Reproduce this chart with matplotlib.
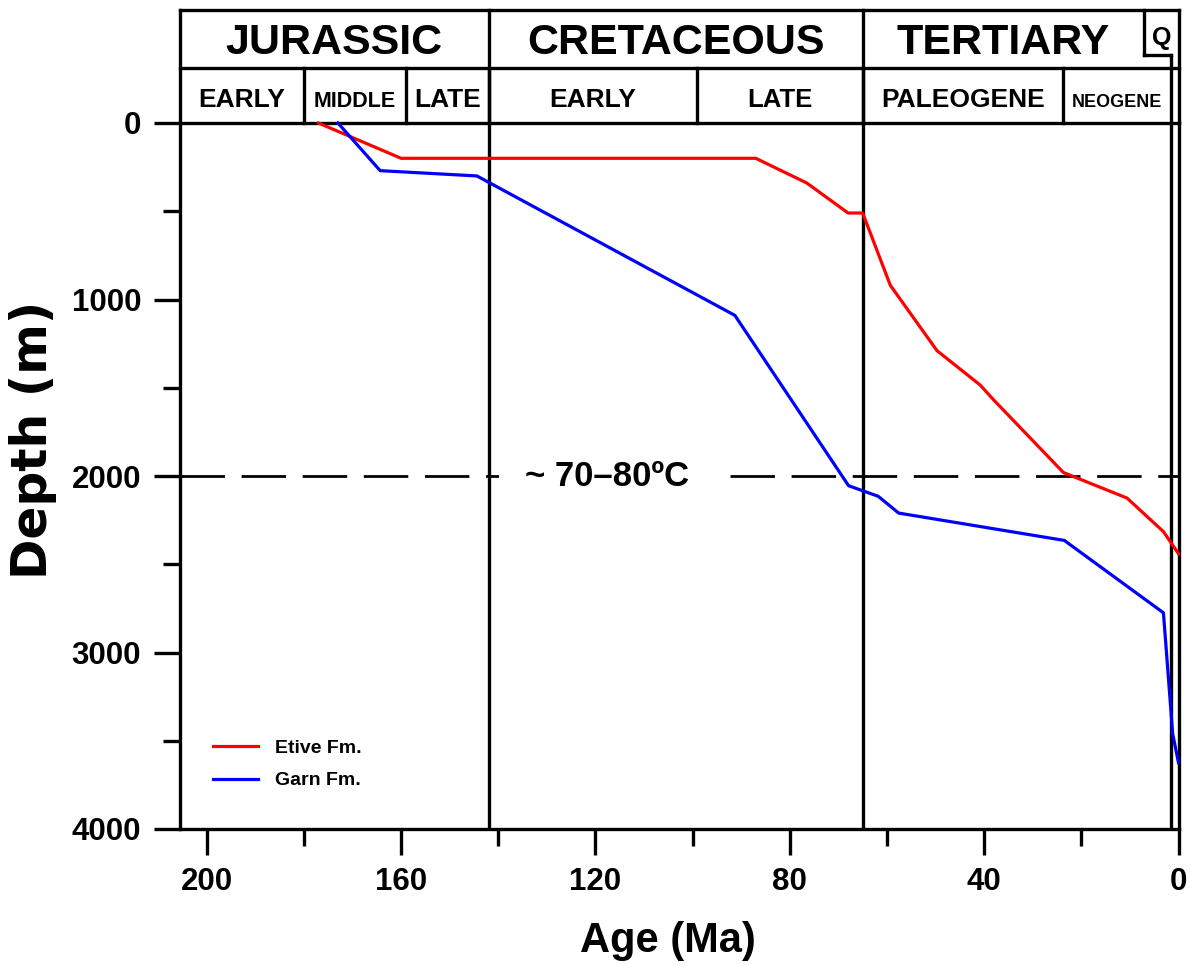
import matplotlib
matplotlib.use("Agg")
import matplotlib.pyplot as plt
from matplotlib.ticker import MultipleLocator

plt.rcParams['font.family'] = ['Liberation Sans', 'DejaVu Sans']
plt.rcParams['font.weight'] = 'bold'

# Burial histories (age in Ma, depth in m)
etive_age = [177, 160, 87, 76.5, 68, 65, 59.3, 49.7, 40.8, 38, 23.7, 10.6, 3.1, 0]
etive_depth = [0, 200, 200, 340, 510, 510, 920, 1290, 1485, 1570, 1980, 2125, 2315, 2440]
garn_age = [173, 164.3, 144.4, 91.3, 67.9, 61.8, 57.6, 23.5, 3.1, 1.2, 0]
garn_depth = [0, 270, 300, 1090, 2055, 2115, 2210, 2365, 2775, 3460, 3625]

# Geological time scale
period_names = ["JURASSIC", "CRETACEOUS", "TERTIARY", "Q"]
period_bounds = [205.5, 142, 65, 1.5, 0]
epoch_names = ["EARLY", "MIDDLE", "LATE", "EARLY", "LATE", "PALEOGENE", "NEOGENE"]
epoch_bounds = [205.5, 180, 159, 142, 99, 65, 23.8, 1.5]
epoch_sizes = [19, 15.5, 19, 19, 18.5, 19, 13]
q_label_left = 7.0  # the Q label box is widened in the upper row

isotherm_depth = 2000
isotherm_label = "~ 70\u201380\u00baC"

x_min, x_max = 205.5, 0
y_min, y_max = 0, 4000

W, H = 1190, 965
fig = plt.figure(figsize=(W / 100, H / 100), dpi=100)

L, R = 180 / W, 1178.5 / W
B, T = 1 - 829 / H, 1 - 123 / H
HT = 1 - 10 / H
ax = fig.add_axes([L, B, R - L, T - B])
hax = fig.add_axes([L, T, R - L, HT - T])

LW = 2.4

# ---- main panel ----
ax.plot(etive_age, etive_depth, color='#ff0000', lw=2.3, label='Etive Fm.', clip_on=False, zorder=4)
ax.plot(garn_age, garn_depth, color='#0000ff', lw=2.3, label='Garn Fm.', clip_on=False, zorder=4)

for b in period_bounds[1:-1]:
    ax.axvline(b, color='black', lw=LW, zorder=3)

ax.axhline(isotherm_depth, color='black', lw=2.0, dashes=(16, 6), zorder=2)
ax.text(117.6, isotherm_depth, isotherm_label, ha='center', va='center',
        fontsize=25, fontweight='bold', zorder=3,
        bbox=dict(facecolor='white', edgecolor='none', pad=19))

ax.set_xlim(x_min, x_max)
ax.set_ylim(y_max, y_min)
for s in ax.spines.values():
    s.set_linewidth(LW)

ax.xaxis.set_major_locator(MultipleLocator(40))
ax.xaxis.set_minor_locator(MultipleLocator(20))
ax.yaxis.set_major_locator(MultipleLocator(1000))
ax.yaxis.set_minor_locator(MultipleLocator(500))
ax.tick_params(which='major', length=19, width=LW, labelsize=22.5, direction='out')
ax.tick_params(which='minor', length=12.5, width=LW, direction='out')
ax.tick_params(axis='x', which='major', pad=8)
ax.tick_params(axis='y', which='major', pad=9)
for lab in ax.get_xticklabels() + ax.get_yticklabels():
    lab.set_fontweight('bold')

ax.set_xlabel('Age (Ma)', fontsize=30, fontweight='bold')
ax.set_ylabel('Depth (m)', fontsize=35, fontweight='bold', family='DejaVu Sans')
ax.xaxis.set_label_coords(0.489, -0.158)
ax.xaxis.label.set_va('center')
ax.yaxis.set_label_coords(-0.147, 0.551)
ax.yaxis.label.set_va('center')

leg = ax.legend(loc='upper left', bbox_to_anchor=(0.033, 0.1265), frameon=False,
                fontsize=14, handlelength=2.3, handletextpad=0.9,
                labelspacing=0.75, borderpad=0, borderaxespad=0)
for t in leg.get_texts():
    t.set_fontweight('bold')

# ---- time-scale header ----
hax.set_xlim(x_min, x_max)
hax.set_ylim(0, 1)
hax.axis('off')
row = 0.487
notch = 0.60
kw = dict(color='black', lw=LW, clip_on=False, solid_capstyle='projecting')

hax.plot([x_min, x_max], [1, 1], **kw)
hax.plot([x_min, x_max], [row, row], **kw)
hax.plot([x_min, x_min], [0, 1], **kw)
hax.plot([x_max, x_max], [0, 1], **kw)
for b in period_bounds[1:-2]:
    hax.plot([b, b], [0, 1], **kw)
q_b = period_bounds[-2]
hax.plot([q_b, q_b], [0, notch], **kw)
hax.plot([q_label_left, q_b], [notch, notch], **kw)
hax.plot([q_label_left, q_label_left], [notch, 1], **kw)
for b in epoch_bounds[1:-1]:
    hax.plot([b, b], [0, row], **kw)

row1_base = (123 - 54.5) / 113
row2_base = (123 - 107) / 113
for i, name in enumerate(period_names[:-1]):
    a, b = period_bounds[i], period_bounds[i + 1]
    if name == "TERTIARY":
        b = q_label_left
    hax.text((a + b) / 2, row1_base, name, ha='center', va='baseline',
             fontsize=31, fontweight='bold')
hax.text((q_label_left + x_max) / 2, (123 - 45) / 113, period_names[-1],
         ha='center', va='baseline', fontsize=18, fontweight='bold')

for i, name in enumerate(epoch_names):
    a, b = epoch_bounds[i], epoch_bounds[i + 1]
    hax.text((a + b) / 2, row2_base, name, ha='center', va='baseline',
             fontsize=epoch_sizes[i], fontweight='bold')

fig.savefig('out.png', dpi=100, facecolor='white')
